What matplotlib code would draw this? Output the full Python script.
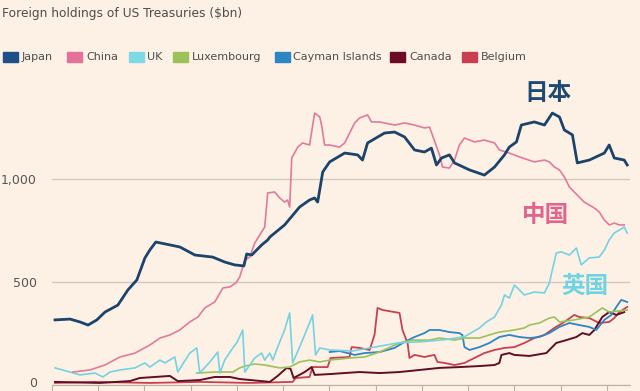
import matplotlib
matplotlib.use("Agg")
import matplotlib.pyplot as plt
from matplotlib.patches import Rectangle
from matplotlib.transforms import ScaledTranslation

plt.rcParams["font.family"] = ["DejaVu Sans", "Noto Sans CJK SC"]

# values, $bn
japan_years = [2000.13, 2000.78, 2001.21, 2001.56, 2001.94, 2002.29, 2002.85, 2003.28, 2003.67,
               2004.02, 2004.23, 2004.49, 2005.10, 2005.53, 2006.18, 2006.95, 2007.47, 2007.90,
               2008.30, 2008.42, 2008.64, 2009.07, 2009.33, 2009.42, 2010.06, 2010.71, 2011.14,
               2011.36, 2011.49, 2011.71, 2012.01, 2012.66, 2013.22, 2013.43, 2013.65, 2014.38,
               2014.82, 2015.25, 2015.68, 2016.11, 2016.41, 2016.63, 2016.85, 2017.19, 2017.41,
               2018.06, 2018.70, 2019.14, 2019.57, 2019.78, 2020.09, 2020.30, 2020.86, 2021.30,
               2021.64, 2021.95, 2022.16, 2022.51, 2022.72, 2023.24, 2023.89, 2024.10, 2024.32,
               2024.75, 2024.88]
japan = [316, 320, 306, 291, 316, 354, 388, 461, 510,
         617, 655, 694, 680, 670, 631, 621, 597, 583,
         578, 636, 631, 680, 704, 718, 777, 864, 898,
         908, 888, 1034, 1083, 1126, 1117, 1092, 1175, 1223,
         1228, 1204, 1141, 1131, 1150, 1068, 1102, 1117, 1078,
         1044, 1019, 1058, 1117, 1155, 1180, 1262, 1277, 1262,
         1320, 1301, 1238, 1214, 1078, 1092, 1126, 1165, 1102,
         1092, 1068]

china_years = [2000.91, 2001.64, 2002.29, 2002.94, 2003.59, 2004.23, 2004.67, 2005.10, 2005.53,
               2005.96, 2006.31, 2006.61, 2007.04, 2007.39, 2007.69, 2007.95, 2008.12, 2008.34,
               2008.55, 2008.77, 2009.07, 2009.20, 2009.33, 2009.63, 2009.85, 2010.06, 2010.19,
               2010.28, 2010.37, 2010.63, 2010.84, 2011.14, 2011.36, 2011.58, 2011.66, 2011.79,
               2012.01, 2012.44, 2012.66, 2013.09, 2013.30, 2013.65, 2013.82, 2014.17, 2014.82,
               2015.25, 2015.68, 2016.11, 2016.33, 2016.76, 2016.89, 2017.19, 2017.41, 2017.62,
               2017.84, 2018.27, 2018.70, 2019.14, 2019.35, 2019.78, 2020.22, 2020.86, 2021.30,
               2021.51, 2021.73, 2021.95, 2022.16, 2022.38, 2022.72, 2023.02, 2023.46, 2023.67,
               2023.89, 2024.10, 2024.32, 2024.54, 2024.75]
china = [63, 73, 97, 136, 155, 194, 228, 243, 267,
         306, 330, 374, 403, 471, 476, 495, 524, 607,
         621, 689, 743, 767, 932, 937, 908, 888, 898,
         864, 1102, 1155, 1175, 1165, 1320, 1301, 1262, 1165,
         1165, 1155, 1175, 1272, 1296, 1311, 1277, 1277, 1262,
         1272, 1262, 1248, 1252, 1117, 1058, 1053, 1092, 1165,
         1199, 1180, 1189, 1175, 1141, 1126, 1107, 1083, 1092,
         1083, 1058, 1044, 1010, 961, 922, 888, 859, 840,
         801, 777, 786, 777, 777]

uk_years = [2000.13, 2000.78, 2001.21, 2001.86, 2002.20, 2002.51, 2002.94, 2003.59, 2004.02,
            2004.23, 2004.67, 2004.88, 2005.31, 2005.44, 2005.96, 2006.26, 2006.39, 2006.83,
            2007.17, 2007.26, 2007.47, 2007.82, 2007.99, 2008.25, 2008.34, 2008.77, 2009.07,
            2009.20, 2009.42, 2009.55, 2009.76, 2010.06, 2010.28, 2010.41, 2010.71, 2011.14,
            2011.27, 2011.40, 2011.58, 2012.01, 2013.00, 2014.00, 2015.00, 2016.00, 2017.00,
            2017.85, 2018.49, 2018.79, 2019.14, 2019.44, 2019.57, 2019.78, 2020.00, 2020.22,
            2020.43, 2020.86, 2021.30, 2021.51, 2021.64, 2021.81, 2022.03, 2022.38, 2022.68,
            2022.89, 2023.24, 2023.67, 2023.89, 2024.10, 2024.32, 2024.54, 2024.75, 2024.88]
uk = [83, 63, 49, 58, 39, 63, 73, 83, 107,
      87, 121, 107, 136, 63, 155, 180, 58, 112,
      160, 58, 121, 180, 204, 267, 63, 131, 155,
      121, 155, 121, 184, 267, 350, 107, 184, 301,
      340, 146, 180, 170, 165, 185, 205, 210, 220,
      235, 277, 306, 330, 388, 437, 422, 485, 461,
      437, 451, 447, 495, 558, 641, 646, 631, 665,
      583, 617, 621, 655, 704, 738, 752, 767, 738]

lux_years = [2006.26, 2007.04, 2007.82, 2008.12, 2008.34, 2008.77, 2009.20, 2009.85, 2010.28,
             2010.71, 2011.14, 2011.58, 2012.01, 2012.87, 2013.52, 2014.17, 2015.03, 2015.59,
             2016.33, 2016.76, 2017.41, 2017.84, 2018.49, 2018.92, 2019.35, 2020.00, 2020.43,
             2020.65, 2021.08, 2021.51, 2021.73, 2021.95, 2022.59, 2023.24, 2023.67, 2023.80,
             2024.10, 2024.88]
luxembourg = [58, 63, 63, 83, 92, 102, 97, 83, 87,
              112, 121, 112, 121, 131, 136, 160, 204, 218,
              218, 228, 218, 228, 228, 243, 257, 267, 277,
              291, 301, 325, 330, 306, 316, 330, 364, 374,
              354, 364]

cayman_years = [2012.01, 2012.44, 2013.09, 2013.52, 2014.17, 2014.82, 2015.25, 2015.68, 2016.11,
                2016.33, 2016.76, 2017.19, 2017.62, 2017.75, 2017.84, 2018.06, 2018.49, 2018.92,
                2019.35, 2019.78, 2020.22, 2020.65, 2021.08, 2021.51, 2021.95, 2022.38, 2022.81,
                2023.24, 2023.54, 2023.89, 2024.19, 2024.41, 2024.62, 2024.88]
cayman = [160, 165, 146, 155, 160, 180, 209, 233, 252,
          267, 267, 257, 252, 243, 184, 170, 184, 204,
          233, 243, 233, 228, 233, 252, 282, 301, 291,
          282, 267, 316, 340, 379, 413, 403]

canada_years = [2000.13, 2002.07, 2003.37, 2003.80, 2004.45, 2005.10, 2005.44, 2006.39, 2007.04,
                2007.69, 2008.12, 2009.42, 2009.76, 2010.15, 2010.32, 2010.45, 2010.93, 2011.23,
                2011.36, 2012.01, 2013.30, 2014.17, 2015.03, 2015.90, 2016.76, 2017.62, 2018.49,
                2019.14, 2019.35, 2019.44, 2019.78, 2020.00, 2020.65, 2021.38, 2021.81, 2022.25,
                2022.68, 2022.94, 2023.24, 2023.46, 2023.80, 2024.10, 2024.41, 2024.75]
canada = [15, 10, 19, 34, 39, 44, 19, 24, 39,
          39, 29, 15, 44, 83, 78, 34, 63, 87,
          49, 53, 63, 58, 63, 73, 83, 87, 92,
          97, 107, 146, 155, 146, 141, 155, 204, 218,
          233, 252, 243, 267, 330, 354, 340, 354]

belgium_years = [2000.13, 2001.86, 2004.23, 2006.39, 2008.55, 2010.41, 2010.54, 2011.14, 2011.27,
                 2011.92, 2012.05, 2012.87, 2012.96, 2013.30, 2013.74, 2013.95, 2014.08, 2014.30,
                 2014.82, 2015.03, 2015.16, 2015.38, 2015.46, 2015.68, 2016.11, 2016.54, 2016.67,
                 2016.98, 2017.41, 2017.84, 2018.27, 2018.70, 2019.14, 2019.57, 2020.00, 2020.43,
                 2020.86, 2021.30, 2021.73, 2022.16, 2022.59, 2022.81, 2023.24, 2023.67, 2024.10,
                 2024.32, 2024.54, 2024.88]
belgium = [10, 15, 10, 15, 10, 15, 34, 39, 87,
           87, 131, 136, 184, 180, 170, 243, 374, 364,
           354, 350, 267, 204, 131, 146, 136, 146, 112,
           107, 97, 107, 131, 155, 170, 180, 184, 204,
           228, 243, 277, 306, 340, 330, 325, 301, 306,
           325, 354, 379]

series = [
    ("Japan", japan_years, japan, "#1b436c", 2.0),
    ("China", china_years, china, "#e07b9b", 1.2),
    ("UK", uk_years, uk, "#74d2e2", 1.2),
    ("Luxembourg", lux_years, luxembourg, "#9cc15a", 1.2),
    ("Cayman Islands", cayman_years, cayman, "#2b86c3", 1.3),
    ("Canada", canada_years, canada, "#5e0f24", 1.4),
    ("Belgium", belgium_years, belgium, "#c8404f", 1.3),
]
legend_colors = ["#1f4f86", "#e5709a", "#7ed8e6", "#9cc15a", "#2b86c3", "#6d0b26", "#c93f4f"]

bg = "#fdf1e6"
fig = plt.figure(figsize=(6.4, 3.91), dpi=100, facecolor=bg)
W, H = 640, 391
ax = fig.add_axes([52 / W, 6 / H, 578 / W, 309 / H], facecolor=bg)

for name, xs, ys, color, lw in reversed(series):
    ax.plot(xs, ys, color=color, lw=lw, solid_joinstyle="round")

ax.set_xlim(2000, 2025)
ax.set_ylim(0, 1500)
ax.set_yticks([0, 500, 1000])
ax.set_yticklabels(["0", "500", "1,000"])
ax.set_xticks(range(2000, 2025, 2))
ax.set_xticklabels([])
ax.grid(axis="y", color="#d3c9be", lw=1.0)
ax.set_axisbelow(True)
for side in ["left", "right", "top"]:
    ax.spines[side].set_visible(False)
ax.spines["bottom"].set_color("#b9b0a6")
ax.tick_params(axis="y", length=0, pad=11, labelsize=9, labelcolor="#555555")
ax.tick_params(axis="x", length=5, color="#b9b0a6", direction="out")

# keep the "0" label inside the picture
zero_label = ax.get_yticklabels()[0]
zero_label.set_transform(zero_label.get_transform() + ScaledTranslation(0, 3 / 100, fig.dpi_scale_trans))

fig.text(2 / W, 1 - 14 / H, "Foreign holdings of US Treasuries ($bn)",
         fontsize=8.8, color="#4d4d4d", va="center", ha="left")

# legend row
patch_x = [3, 67, 129, 173, 275, 390, 462]
text_x = [22, 86, 147, 192, 293, 409, 481]
ly = 57
for (name, *_), color, px, tx in zip(series, legend_colors, patch_x, text_x):
    fig.patches.append(Rectangle((px / W, 1 - (ly + 5) / H), 15 / W, 10 / H,
                                 transform=fig.transFigure, color=color))
    fig.text(tx / W, 1 - ly / H, name, fontsize=8, color="#4d4d4d", va="center", ha="left")

ax.annotate("日本", xy=(548 / W, 1 - 93 / H), xycoords="figure fraction", ha="center", va="center",
            fontsize=17, fontweight="bold", color="#1e4a72", family=["Noto Sans CJK SC"])
ax.annotate("中国", xy=(546 / W, 1 - 215 / H), xycoords="figure fraction", ha="center", va="center",
            fontsize=17, fontweight="bold", color="#e0648c", family=["Noto Sans CJK SC"])
ax.annotate("英国", xy=(585 / W, 1 - 286 / H), xycoords="figure fraction", ha="center", va="center",
            fontsize=17, fontweight="bold", color="#6ed3e2", family=["Noto Sans CJK SC"])

fig.savefig("out.png", dpi=100, facecolor=bg)
